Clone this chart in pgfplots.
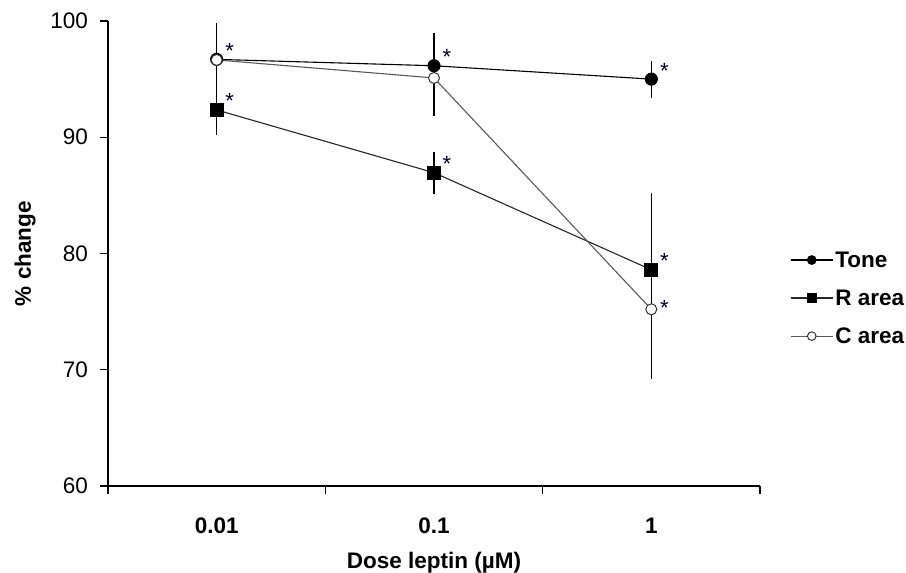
\documentclass[border=0pt]{standalone}
\usepackage{fontspec}
\setmainfont{Liberation Sans}
\usepackage{pgfplots}
\pgfplotsset{compat=1.18}
\usepackage{pgfplotstable}

% mean and sem, x: 0=0.01, 1=0.1, 2=1 uM
\pgfplotstableread{
x  y      e
0  96.70  3.10
1  96.15  2.80
2  95.00  1.60
}\tone
\pgfplotstableread{
x  y      e
0  92.35  2.15
1  86.95  1.80
2  78.60  6.60
}\rarea
\pgfplotstableread{
x  y      e
0  96.65  2.00
1  95.10  3.30
2  75.20  6.00
}\carea
\pgfplotstableread{
x  y
2  75.20
}\cstar

\begin{document}
\begin{tikzpicture}
\begin{axis}[
    width=652pt, height=465pt,
    scale only axis,
    at={(0,0)}, anchor=south west,
    xmin=-0.5, xmax=2.5,
    ymin=60, ymax=100,
    axis x line*=bottom,
    axis y line*=left,
    axis line style={line width=1.4pt},
    tick style={line width=1.2pt, black},
    tick align=outside,
    major tick length=8pt,
    xtick={-0.5,0.5,1.5,2.5},
    xticklabels={0.01,0.1,1},
    x tick label as interval,
    ytick={60,70,80,90,100},
    font=\fontsize{22.5}{27}\selectfont,
    /pgf/number format/assume math mode=true,
    xticklabel style={inner sep=0pt, yshift=-24pt, anchor=north, font=\fontsize{22.5}{27}\selectfont\bfseries},
    yticklabel style={inner sep=0pt, xshift=-12pt, anchor=east},
    xlabel={\bfseries Dose leptin (µM)},
    ylabel={\bfseries \% change},
    xlabel style={at={(axis description cs:0.5,-0.165)}, anchor=center},
    ylabel style={at={(axis description cs:-0.127,0.5)}, anchor=center},
    clip=false,
    legend style={draw=none, fill=none, at={(1.046,0.404)}, anchor=west,
        font=\fontsize{22.5}{27}\selectfont\bfseries, row sep=17pt, inner sep=0pt},
    legend cell align=left,
    legend image code/.code={
        \draw[mark repeat=2, mark phase=2, mark size=4.3pt]
            plot coordinates {(0pt,0pt) (21pt,0pt) (42pt,0pt)};
    },
    error bars/y dir=both,
    error bars/y explicit,
    error bars/error mark=none,
    error bars/error bar style={line width=1.2pt, black},
    every node near coord/.style={anchor=base, xshift=13pt, yshift=1pt,
        font=\fontsize{22}{26}\selectfont, text=black!85!blue},
]
\addplot[black, line width=1.1pt, mark=*, mark size=6pt,
    mark options={fill=black, solid},
    nodes near coords={*}]
    table[x=x, y=y, y error=e] {\tone};
\addlegendentry{Tone}
\addplot[black!85, line width=1.1pt, mark=square*, mark size=6.3pt,
    mark options={fill=black, draw=black, solid},
    nodes near coords={*}]
    table[x=x, y=y, y error=e] {\rarea};
\addlegendentry{R area}
\addplot[black!65, line width=1.1pt, mark=*, mark size=5.5pt,
    mark options={fill=white, draw=black!80, line width=1pt, solid}]
    table[x=x, y=y, y error=e] {\carea};
\addlegendentry{C area}
\addplot[draw=none, mark=none, forget plot,
    error bars/y dir=none,
    nodes near coords={*},
    every node near coord/.append style={yshift=-7pt}]
    table[x=x, y=y] {\cstar};
\end{axis}
\pgfresetboundingbox
\path (-108pt,-87pt) rectangle (798pt,486pt);
\end{tikzpicture}
\end{document}
